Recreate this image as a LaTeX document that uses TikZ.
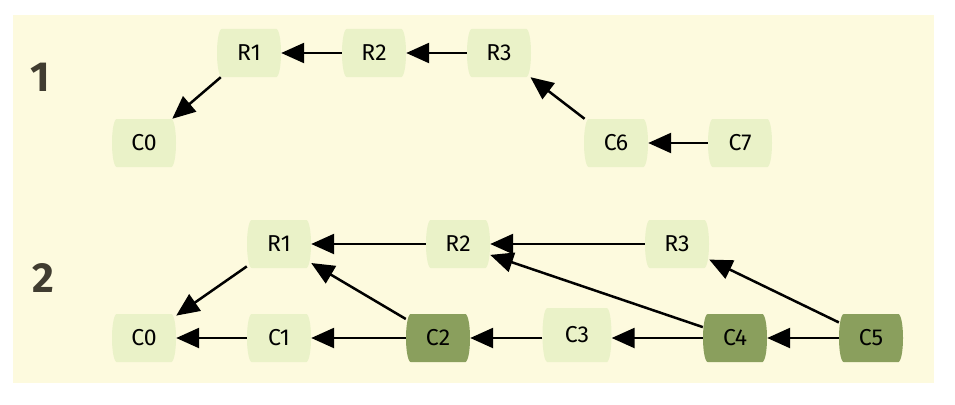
\documentclass[tikz,border=0pt]{standalone}
\usepackage{fontspec}
\setmainfont{Fira Sans}
\usetikzlibrary{arrows.meta}
\definecolor{paper}{RGB}{253,250,222}
\definecolor{lightcommit}{RGB}{234,242,200}
\definecolor{darkcommit}{RGB}{138,159,93}
\definecolor{stepink}{RGB}{64,60,48}
\tikzset{
  commit/.style={minimum width=2*\hw pt, minimum height=2*\hh pt, inner sep=0pt,
    font=\fontsize{23}{23}\selectfont},
  link/.style={line width=2.5pt, -{Triangle[length=23pt,width=20pt]}},
  steplabel/.style={font=\fontsize{42}{42}\selectfont\bfseries, text=stepink}
}
% barrel-shaped commit box: name, x, y (pixel rows grow downwards), label, fill
\def\hw{32}\def\hh{24}
\newcommand\commitbox[5]{%
  \fill[#5] (#2-\hw+4.5,-#3+\hh) -- (#2+\hw-4.5,-#3+\hh)
    .. controls (#2+\hw+1.5,-#3+\hh-3) and (#2+\hw+1.5,-#3-\hh+3) .. (#2+\hw-4.5,-#3-\hh)
    -- (#2-\hw+4.5,-#3-\hh)
    .. controls (#2-\hw-1.5,-#3-\hh+3) and (#2-\hw-1.5,-#3+\hh-3) .. cycle;
  \node[commit] (#1) at (#2,-#3) {#4};
}
\begin{document}
\begin{tikzpicture}[x=1pt,y=1pt]
\useasboundingbox (0,0) rectangle (955,-404);
\fill[white] (0,0) rectangle (955,-404);
\fill[paper] (13,-15) rectangle (934,-383);

\node[steplabel] (s1) at (40,-77) {1};
\node[steplabel] (s2) at (43,-278) {2};

% first state
\commitbox{aR1}{249}{53}{R1}{lightcommit}
\commitbox{aR2}{374}{53}{R2}{lightcommit}
\commitbox{aR3}{499}{53}{R3}{lightcommit}
\commitbox{aC0}{144}{143}{C0}{lightcommit}
\commitbox{aC6}{616}{143}{C6}{lightcommit}
\commitbox{aC7}{740}{143}{C7}{lightcommit}

\draw[link] (aR2) -- (aR1);
\draw[link] (aR3) -- (aR2);
\draw[link] (aR1) -- (aC0);
\draw[link] (aC6) -- (aR3);
\draw[link] (aC7) -- (aC6);

% second state
\commitbox{bR1}{279}{244}{R1}{lightcommit}
\commitbox{bR2}{458}{244}{R2}{lightcommit}
\commitbox{bR3}{677}{244}{R3}{lightcommit}
\commitbox{bC0}{144}{338}{C0}{lightcommit}
\commitbox{bC1}{279}{338}{C1}{lightcommit}
\commitbox{bC2}{438}{338}{C2}{darkcommit}
{\def\hw{34.5}\def\hh{27}
\commitbox{bC3}{577}{335}{C3}{lightcommit}}
\commitbox{bC4}{735}{338}{C4}{darkcommit}
\commitbox{bC5}{871}{338}{C5}{darkcommit}

\draw[link] (bR2) -- (bR1);
\draw[link] (bR3) -- (bR2);
\draw[link] (bR1) -- (bC0);
\draw[link] (bC1) -- (bC0);
\draw[link] (bC2) -- (bC1);
\draw[link] (bC2) -- (bR1);
\draw[link] (bC3.west|-bC2) -- (bC2);
\draw[link] (bC4) -- (bC3.east|-bC4);
\draw[link] (bC4) -- (bR2);
\draw[link] (bC5) -- (bC4);
\draw[link] (bC5) -- (bR3);
\end{tikzpicture}
\end{document}
